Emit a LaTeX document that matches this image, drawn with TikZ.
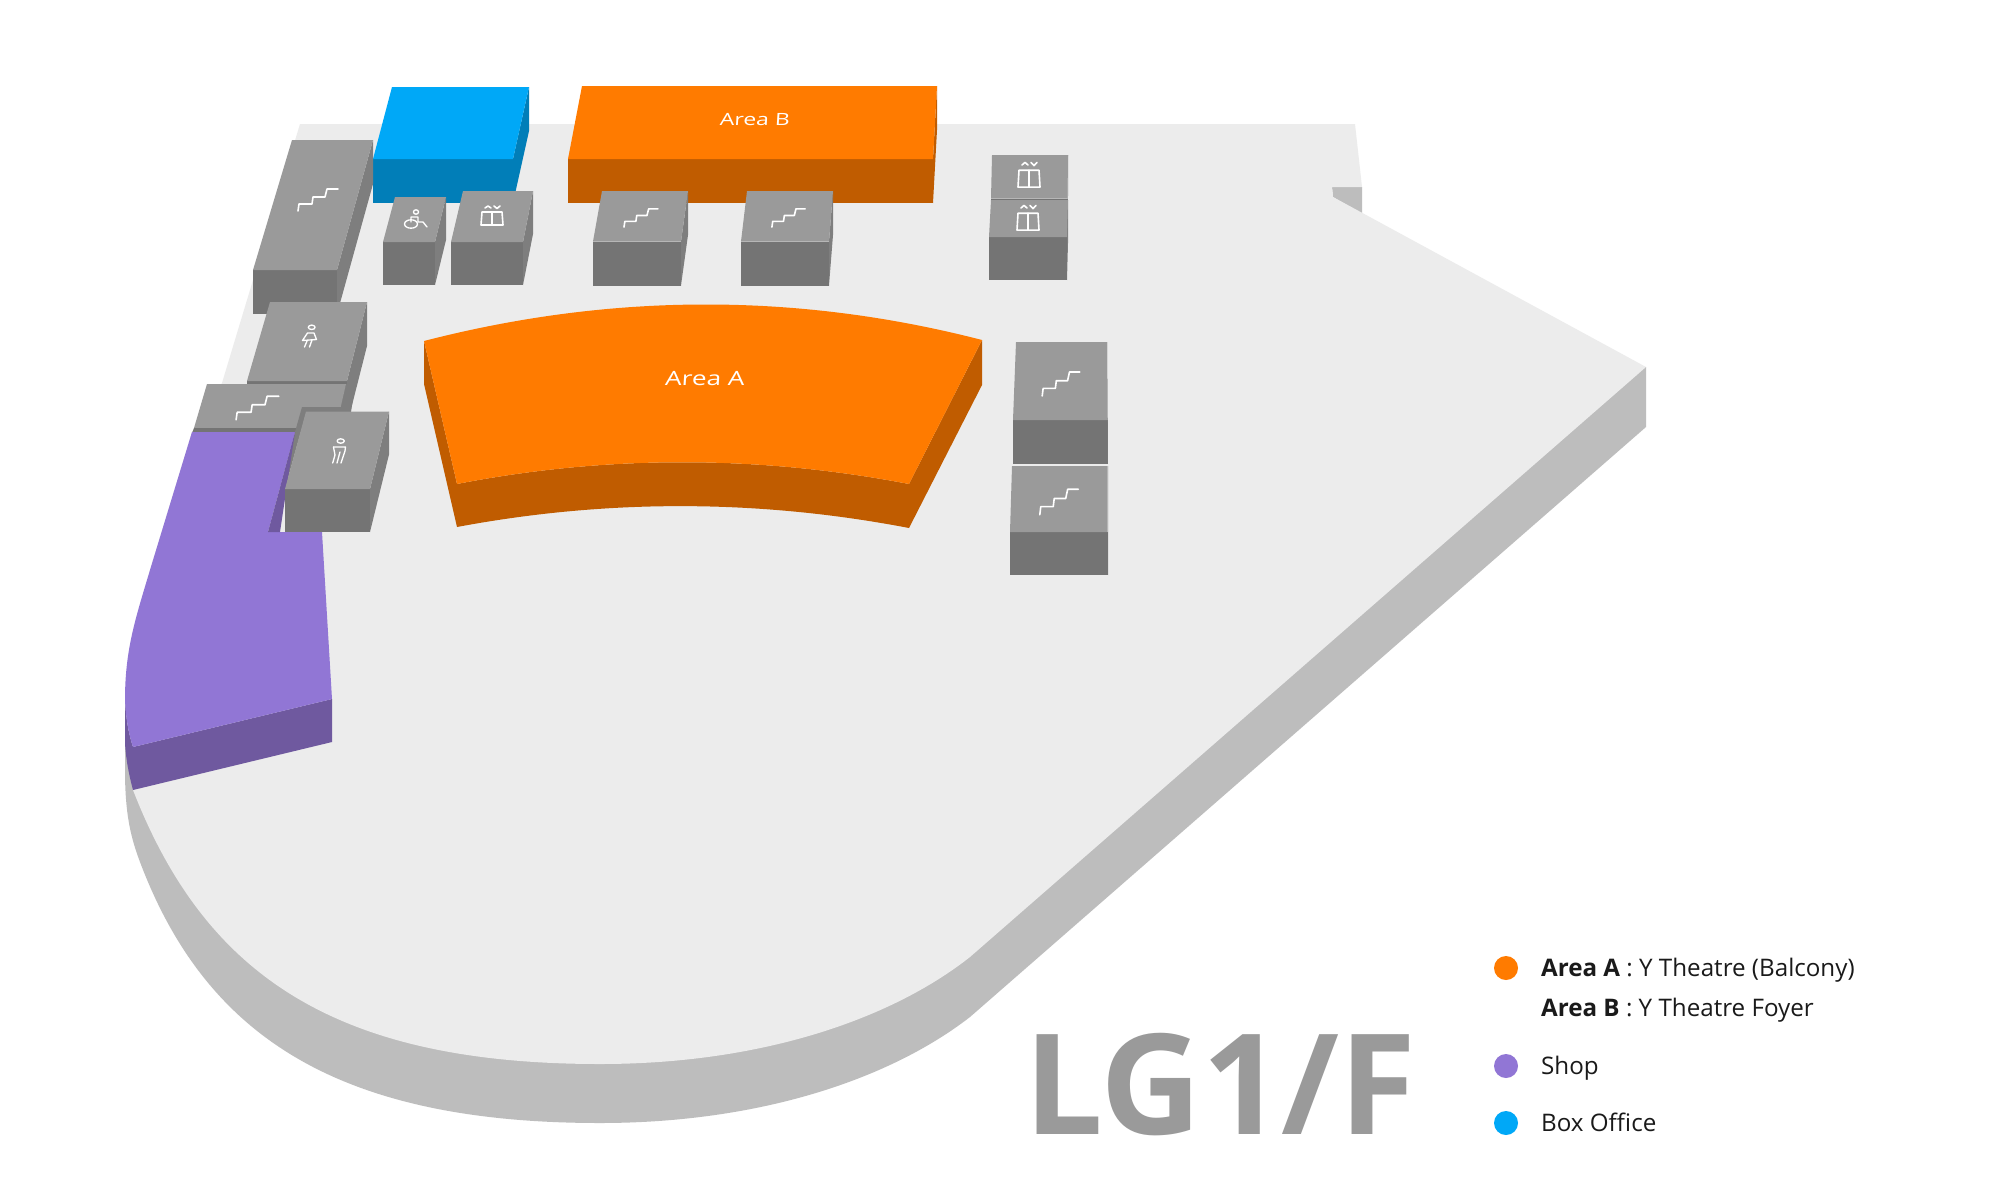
\documentclass[tikz,border=0pt]{standalone}
\usepackage{fontspec}
\setmainfont{Open Sans}
\usetikzlibrary{calc}
\definecolor{floorc}{HTML}{ECECEC}
\definecolor{floorshade}{HTML}{BDBDBD}
\definecolor{graytop}{HTML}{9A9A9A}
\definecolor{grayfront}{HTML}{747474}
\definecolor{grayside}{HTML}{7E7E7E}
\definecolor{orangetop}{HTML}{FF7B00}
\definecolor{orangeside}{HTML}{C05C00}
\definecolor{bluetop}{HTML}{00A8F7}
\definecolor{blueside}{HTML}{017EB8}
\definecolor{purpletop}{HTML}{9176D5}
\definecolor{purpleside}{HTML}{6F599F}
\definecolor{legendtext}{HTML}{1A1A1A}
\newcommand\volbox[8]{%
  \fill[#7] (#4) -- (#3) -- ($(#3)+(0,#5)$) -- ($(#4)+(0,#5)$) -- cycle;
  \fill[#8] (#2) -- ($(#2)+(0,#5)$) -- ($(#3)+(0,#5)$) -- (#3) -- cycle;
  \fill[#6] (#1) -- (#2) -- (#3) -- (#4) -- cycle;}
\newcommand\gbox[5]{\volbox{#1}{#2}{#3}{#4}{#5}{graytop}{grayfront}{grayside}}
\newcommand\stairic[4]{\begin{scope}[shift={(#1,#2)},xscale=#3,yscale=#4]
  \draw[icon] (-20,11) -- (-19,4) -- (-6,4) -- (-5,-3) -- (7,-3) -- (9,-11) -- (20,-11);
  \end{scope}}
\newcommand\giftic[4]{\begin{scope}[shift={(#1,#2)},xscale=#3,yscale=#4]
  \draw[icon] (-10,-6) -- (10,-6) -- (11,7) -- (-11,7) -- cycle;
  \draw[icon] (0,-6) -- (0,7);
  \draw[icon] (-7,-10) -- (-4,-12) -- (-1,-10);
  \draw[icon] (2,-12) -- (5,-9.5) -- (8,-12);
  \end{scope}}
\tikzset{
  icon/.style={draw=white,line width=2.3pt,line cap=round,line join=round,fill=none},
  personicon/.style={icon,line width=1.9pt},
  legendlabel/.style={anchor=base west,inner sep=0pt,text=legendtext,font=\fontsize{34.4}{40}\selectfont},
}
\begin{document}
\begin{tikzpicture}[x=0.05cm,y=-0.05cm]
\useasboundingbox (0,0) rectangle (2000,1200);
\fill[white] (0,0) rectangle (2000,1200);
% floor
\fill[floorshade] (1646,367) -- (1646,427) -- (970,1017) .. controls (890,1079) and (760,1123) .. (600,1123) .. controls (335,1123) and (205,1034) .. (140,862) .. controls (131,838) and (125,815) .. (125,770) -- (125,700) -- cycle;
\fill[floorshade] (1332,187) -- (1362,187) -- (1362,214) -- (1333,197) -- cycle;
\fill[floorc] (300,124) -- (1355,124) -- (1362,187) -- (1332,187) -- (1333,197) -- (1646,367) -- (970,957) .. controls (890,1020) and (760,1064) .. (600,1064) .. controls (335,1064) and (205,975) .. (133,790) -- (125,700) -- (150,570) -- (192,432) -- (222,383) -- cycle;
% box office
\volbox{392,87}{529,87}{513,159}{373,159}{44}{bluetop}{blueside}{blueside}
% area B
\volbox{582,86}{937,86}{933,159}{568,159}{44}{orangetop}{orangeside}{orangeside}
\node[text=white,inner sep=0pt,font=\fontsize{24}{28}\selectfont,xscale=1.36,xslant=0.05,transform shape] (areaB) at (755,120) {Area B};
% grey blocks, top row
\gbox{292,140}{373,140}{337,270}{253,270}{44}
\gbox{395,197}{446,197}{435,242}{383,242}{43}
\gbox{463,191}{533,191}{523,242}{451,242}{43}
\gbox{602,191}{688,191}{681,241.5}{593,241.5}{44}
\gbox{747,191}{833,191}{829,241.5}{741,241.5}{44}
\gbox{992,155}{1068,155}{1067.5,198.5}{991,198.5}{40}
\gbox{991,200}{1068,200}{1067,237}{989,237}{43}
% right stairs
\gbox{1016,342}{1107,342}{1107.5,420}{1013,420}{43.5}
\gbox{1012,466}{1107.5,466}{1107.5,532}{1010,532}{43}
% area A
\fill[orangeside] (424,341) -- (424,384) -- (457,527) .. controls (606,499) and (758,499) .. (909,528) -- (982,385) -- (982,340) -- (909,484) .. controls (758,455) and (606,455) .. (457,484) -- cycle;
\fill[orangetop] (424,341) .. controls (610,293) and (796,292) .. (982,340) -- (909,484) .. controls (758,455) and (606,455) .. (457,484) -- cycle;
\node[text=white,inner sep=0pt,font=\fontsize{28}{32}\selectfont,xscale=1.33,xslant=0.05,transform shape] (areaA) at (705,378.5) {Area A};
% left stack
\gbox{270,302}{367,302}{347,381}{247,381}{44}
\fill[grayside] (346,384) -- (355,384) -- (351,412) -- (339,412) -- cycle;
\fill[graytop] (207,384) -- (346,384) -- (340.7,407) -- (335,432) -- (194,428) -- cycle;
\fill[grayfront] (194,428) -- (300,428) -- (300,433) -- (192,433) -- cycle;
\fill[grayside] (302,407) -- (341,407) -- (345,413) -- (306,413) -- (285,489) -- (280,489) -- (295,432) -- cycle;
% shop
\fill[purpleside] (125,700) .. controls (126,720) and (129,735) .. (133,747) -- (332,699) -- (332,742) -- (133,790) .. controls (129,775) and (126,760) .. (125,743) -- cycle;
\fill[purpletop] (192,432) -- (295,432) -- (268,532) -- (322,532) -- (332,699) -- (133,747) .. controls (129,735) and (126,720) .. (125,700) .. controls (125,650) and (135,620) .. (150,570) -- cycle;
\fill[purpleside] (295,432) -- (280,532) -- (268,532) -- cycle;
% male block
\gbox{306,411.5}{389,411.5}{370,489}{285,489}{43}
% icons
\stairic{318}{200}{1}{1}
\stairic{257.5}{408}{1.07}{1.07}
\stairic{641}{218}{0.85}{0.83}
\stairic{788.5}{218}{0.83}{0.83}
\stairic{1061}{384}{0.94}{1.09}
\stairic{1059}{502}{0.96}{1.16}
\giftic{492}{218}{1}{1}
\giftic{1029}{178}{1}{1.3}
\giftic{1028}{221}{1}{1.3}
% wheelchair
\draw[personicon] (416,212) circle [x radius=2.6,y radius=2.2];
\draw[personicon] (411,222) -- (411,217) -- (418,217) -- (418,222) -- (423,222) -- (427,227);
\draw[personicon] (411,224) circle [x radius=6.5,y radius=4.2];
% female
\draw[personicon] (311.7,327.3) circle [x radius=3.4,y radius=2.2];
\draw[personicon] (307.5,333) -- (314,333) -- (316.5,339.5) -- (302.5,340.5) -- cycle;
\draw[personicon] (307,341) -- (304.5,347);
\draw[personicon] (312,340) -- (309.5,347);
% male
\draw[personicon] (340.7,441) circle [x radius=3.6,y radius=2.2];
\draw[personicon] (333.5,447) -- (345.5,447) -- (345,451) -- (341,463);
\draw[personicon] (333.5,447) -- (335,455) -- (332.7,463);
\draw[personicon] (340,452) -- (337,463);
% title
\node[anchor=base,inner sep=0pt,text=graytop,font=\fontsize{199}{220}\selectfont\bfseries,xscale=1.0,transform shape] (title) at (1220.5,1134) {LG1/F};
% legend
\fill[orangetop] (1506,968) circle [radius=12];
\fill[purpletop] (1506,1066) circle [radius=12];
\fill[bluetop] (1506,1123) circle [radius=12];
\node[legendlabel] (la) at (1541,976.5) {\textbf{Area A} : Y Theatre (Balcony)};
\node[legendlabel] (lb) at (1541,1016.5) {\textbf{Area B} : Y Theatre Foyer};
\node[legendlabel] (ls) at (1541,1074.5) {Shop};
\node[legendlabel] (lo) at (1541,1131.5) {Box Office};
\end{tikzpicture}
\end{document}
